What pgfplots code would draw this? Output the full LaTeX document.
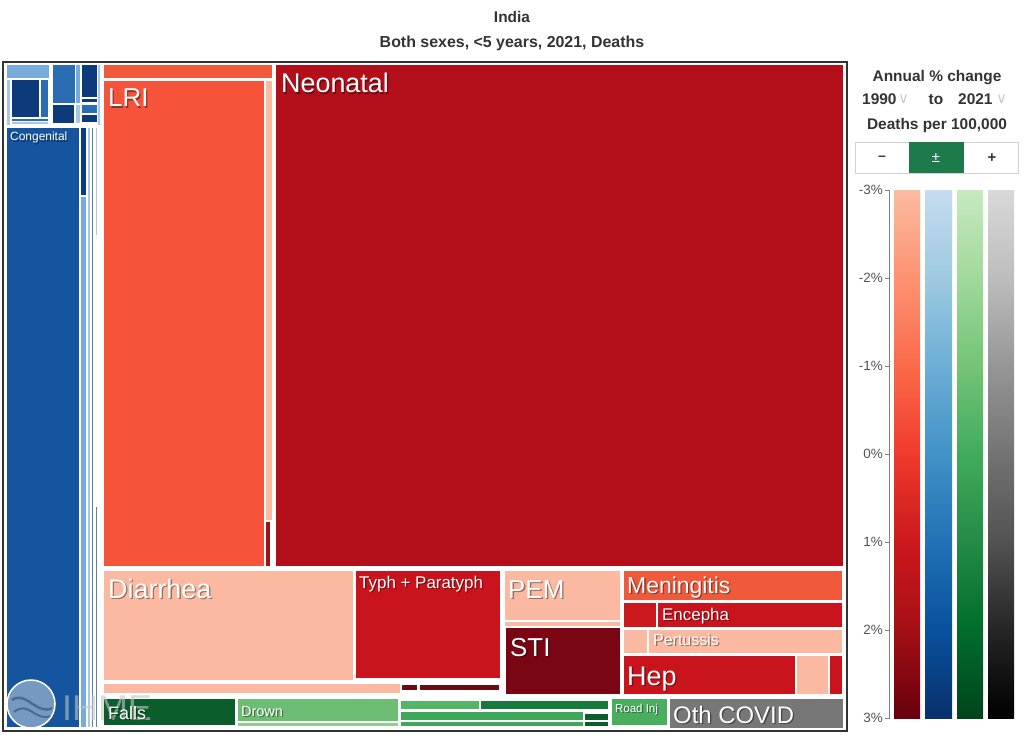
\documentclass[border=0pt]{standalone}
\usepackage{fontspec}
\setmainfont{Liberation Sans}
\newfontfamily\dejavu{DejaVu Sans}
\usepackage{pgfplots}
\pgfplotsset{compat=1.18}
% treemap colours
\definecolor{cong}{HTML}{15559F}
\definecolor{navy}{HTML}{0C3A7A}
\definecolor{bmed}{HTML}{2B6DB2}
\definecolor{blt}{HTML}{78ABD9}
\definecolor{bltr}{HTML}{A9C8E6}
\definecolor{slate}{HTML}{5E7FA6}
\definecolor{lri}{HTML}{F5533A}
\definecolor{orr}{HTML}{EF5A3D}
\definecolor{salm}{HTML}{FAB9A0}
\definecolor{neo}{HTML}{B20F1A}
\definecolor{redm}{HTML}{C9141D}
\definecolor{redd}{HTML}{7A0614}
\definecolor{redx}{HTML}{6B0B16}
\definecolor{gdk}{HTML}{0B5E2B}
\definecolor{glt}{HTML}{6DBD74}
\definecolor{gltr}{HTML}{8FCE8F}
\definecolor{gm1}{HTML}{54B468}
\definecolor{gm2}{HTML}{17793C}
\definecolor{gm3}{HTML}{3EA75A}
\definecolor{groad}{HTML}{4AAE5F}
\definecolor{covid}{HTML}{777777}
\definecolor{btn}{HTML}{1E7A4A}
\definecolor{txt}{HTML}{333333}
\definecolor{logo}{HTML}{8FAACB}
\definecolor{logod}{HTML}{3E5F8A}
% colour scales
\definecolor{r1}{HTML}{FCBBA1}\definecolor{r2}{HTML}{FC9272}\definecolor{r3}{HTML}{FB6A4A}
\definecolor{r4}{HTML}{EF3B2C}\definecolor{r5}{HTML}{CB181D}\definecolor{r6}{HTML}{A50F15}\definecolor{r7}{HTML}{67000D}
\definecolor{b1}{HTML}{C6DBEF}\definecolor{b2}{HTML}{9ECAE1}\definecolor{b3}{HTML}{6BAED6}
\definecolor{b4}{HTML}{4292C6}\definecolor{b5}{HTML}{2171B5}\definecolor{b6}{HTML}{08519C}\definecolor{b7}{HTML}{08306B}
\definecolor{g1}{HTML}{C7E9C0}\definecolor{g2}{HTML}{A1D99B}\definecolor{g3}{HTML}{74C476}
\definecolor{g4}{HTML}{41AB5D}\definecolor{g5}{HTML}{238B45}\definecolor{g6}{HTML}{006D2C}\definecolor{g7}{HTML}{00441B}
\definecolor{k1}{HTML}{D9D9D9}\definecolor{k2}{HTML}{BDBDBD}\definecolor{k3}{HTML}{969696}
\definecolor{k4}{HTML}{737373}\definecolor{k5}{HTML}{525252}\definecolor{k6}{HTML}{252525}\definecolor{k7}{HTML}{000000}
\pgfdeclareverticalshading{reds}{100bp}{color(0bp)=(r7); color(25bp)=(r7); color(33.33bp)=(r6); color(41.67bp)=(r5); color(50bp)=(r4); color(58.33bp)=(r3); color(66.67bp)=(r2); color(75bp)=(r1); color(100bp)=(r1)}
\pgfdeclareverticalshading{blues}{100bp}{color(0bp)=(b7); color(25bp)=(b7); color(33.33bp)=(b6); color(41.67bp)=(b5); color(50bp)=(b4); color(58.33bp)=(b3); color(66.67bp)=(b2); color(75bp)=(b1); color(100bp)=(b1)}
\pgfdeclareverticalshading{greens}{100bp}{color(0bp)=(g7); color(25bp)=(g7); color(33.33bp)=(g6); color(41.67bp)=(g5); color(50bp)=(g4); color(58.33bp)=(g3); color(66.67bp)=(g2); color(75bp)=(g1); color(100bp)=(g1)}
\pgfdeclareverticalshading{greys}{100bp}{color(0bp)=(k7); color(25bp)=(k7); color(33.33bp)=(k6); color(41.67bp)=(k5); color(50bp)=(k4); color(58.33bp)=(k3); color(66.67bp)=(k2); color(75bp)=(k1); color(100bp)=(k1)}
\newcommand{\R}[5]{\addplot[fill=#5,draw=none,forget plot] coordinates {(#1,#2) (#3,#2) (#3,#4) (#1,#4)} -- cycle;}
\newcommand{\SB}[3]{\addplot[shading=#3,draw=none,forget plot] coordinates {(#1,190) (#2,190) (#2,718) (#1,718)} -- cycle;}
\newcommand{\lab}[4]{%
 \node[anchor=base west,inner sep=0,text=black,opacity=0.4,xshift=1.3bp,yshift=-1.3bp,font=\fontsize{#3}{#3}\selectfont] at (axis cs:#1,#2) {#4};
 \node[anchor=base west,inner sep=0,text=white,font=\fontsize{#3}{#3}\selectfont] at (axis cs:#1,#2) {#4};}
\newcommand{\tk}[2]{\node[anchor=east,inner sep=0,text=txt!85,font=\fontsize{13.5}{13.5}\selectfont] at (axis cs:883,#1) {#2};}
\begin{document}
\begin{tikzpicture}
\useasboundingbox (0,0) rectangle (1024bp,735bp);
\begin{axis}[at={(0,0)},anchor=south west,scale only axis,width=1024bp,height=735bp,
  xmin=0,xmax=1024,ymin=0,ymax=735,y dir=reverse,hide axis,clip=false,no markers]
% frame
\addplot[draw=txt,line width=2bp,forget plot] coordinates {(3,62) (847,62) (847,731) (3,731)} -- cycle;
% blue cluster (top-left)
\R{7}{65}{49}{78}{blt}
\R{7}{80}{10}{125}{bltr}
\R{12}{80}{39}{117}{navy}
\R{41}{80}{48}{117}{bmed}
\R{12}{119}{48}{121}{bmed}
\R{12}{122}{48}{124}{bltr}
\R{53}{65}{75}{103}{bmed}
\R{76}{65}{80}{103}{blt}
\R{82}{65}{97}{97}{navy}
\R{82}{99}{97}{102}{navy}
\R{53}{105}{74}{123}{navy}
\R{76}{105}{80}{123}{bltr}
\R{82}{105}{97}{113}{bmed}
\R{82}{115}{97}{122}{navy}
\R{98}{65}{100}{125}{bltr}
% congenital column
\R{7}{128}{79}{727}{cong}
\R{81}{128}{86}{195}{navy}
\R{81}{197}{86}{727}{blt}
\R{88}{128}{90}{727}{bltr}
\R{92}{128}{93}{727}{slate}
\R{96}{128}{97}{235}{bltr}
\R{96}{507}{97}{727}{slate}
% LRI
\R{104}{65}{272}{78}{orr}
\R{104}{81}{264}{566}{lri}
\R{266}{81}{272}{520}{salm}
\R{266}{522}{270}{566}{r6}
% Neonatal
\R{276}{65}{843}{566}{neo}
% second band
\R{104}{571}{353}{680}{salm}
\R{104}{684}{400}{693}{salm}
\R{356}{571}{500}{678}{redm}
\R{402}{685}{417}{690}{redx}
\R{420}{685}{499}{690}{redx}
\R{505}{571}{620}{620}{salm}
\R{505}{622}{620}{626}{salm}
\R{506}{628}{620}{694}{redd}
\R{624}{571}{842}{600}{orr}
\R{624}{603}{656}{627}{r5}
\R{658}{603}{842}{627}{redm}
\R{624}{630}{647}{653}{salm}
\R{649}{630}{842}{653}{salm}
\R{624}{656}{795}{694}{redm}
\R{797}{656}{828}{694}{salm}
\R{830}{656}{842}{694}{redm}
% bottom band
\R{104}{699}{235}{725}{gdk}
\R{238}{699}{398}{721}{glt}
\R{238}{723}{398}{726}{gltr}
\R{401}{701}{479}{709}{gm1}
\R{481}{701}{608}{709}{gm2}
\R{401}{712}{583}{720}{gm3}
\R{585}{714}{608}{720}{gdk}
\R{401}{722}{583}{726}{gm3}
\R{585}{722}{608}{726}{gdk}
\R{612}{699}{667}{725}{groad}
\R{670}{699}{843}{728}{covid}
% IHME watermark (drawn under the labels)
\draw[white,line width=1.5bp,fill=logo,fill opacity=0.8] (axis cs:31,704) circle[radius=24bp];
\draw[logod,line width=2.5bp,opacity=0.8] (axis cs:12,700) .. controls (axis cs:25,690) and (axis cs:38,716) .. (axis cs:52,708);
\draw[logod,line width=2bp,opacity=0.8] (axis cs:14,712) .. controls (axis cs:28,700) and (axis cs:36,722) .. (axis cs:50,716);
\node[anchor=base west,inner sep=0,text=gray!45,opacity=0.6,font=\fontsize{36}{36}\selectfont] at (axis cs:62,720) {IHME};
% labels
\lab{10}{141}{12}{Congenital}
\lab{108}{107}{26}{LRI}
\lab{281}{93}{27}{Neonatal}
\lab{108}{598}{27}{Diarrhea}
\lab{359}{588}{17}{Typh + Paratyph}
\lab{508}{598}{26}{PEM}
\lab{510}{656}{26}{STI}
\lab{627}{593}{23}{Meningitis}
\lab{662}{620}{17}{Encepha}
\lab{653}{645}{16}{Pertussis}
\lab{627}{685}{27}{Hep}
\lab{673}{723}{24}{Oth COVID}
\lab{108}{719}{18}{Falls}
\lab{241}{716}{14.5}{Drown}
\lab{615}{712}{11.5}{Road Inj}
% titles
\node[anchor=base,text=txt,font=\bfseries\fontsize{15.5}{15.5}\selectfont] at (axis cs:512,23) {India};
\node[anchor=base,text=txt,font=\bfseries\fontsize{16}{16}\selectfont] at (axis cs:512,48) {Both sexes, <5 years, 2021, Deaths};
% right panel
\node[anchor=base,text=txt,font=\bfseries\fontsize{15.5}{15.5}\selectfont] at (axis cs:937,82) {Annual \% change};
\node[anchor=base west,inner sep=0,text=txt,font=\bfseries\fontsize{15.5}{15.5}\selectfont] at (axis cs:862,105) {1990};
\node[anchor=base west,inner sep=0,text=gray!40,font=\dejavu\fontsize{15}{15}\selectfont] at (axis cs:898,104) {∨};
\node[anchor=base,text=txt,font=\bfseries\fontsize{15.5}{15.5}\selectfont] at (axis cs:936,105) {to};
\node[anchor=base west,inner sep=0,text=txt,font=\bfseries\fontsize{15.5}{15.5}\selectfont] at (axis cs:958,105) {2021};
\node[anchor=base west,inner sep=0,text=gray!40,font=\dejavu\fontsize{15}{15}\selectfont] at (axis cs:996,104) {∨};
\node[anchor=base,text=txt,font=\bfseries\fontsize{15.5}{15.5}\selectfont] at (axis cs:937,130) {Deaths per 100,000};
\addplot[draw=gray!35,line width=0.8bp,forget plot] coordinates {(855,142) (1018,142) (1018,173) (855,173)} -- cycle;
\R{909}{142}{964}{173}{btn}
\node[text=txt,font=\bfseries\fontsize{14}{14}\selectfont] at (axis cs:882,158) {–};
\node[text=white,font=\fontsize{15}{15}\selectfont] at (axis cs:936,158) {±};
\node[text=txt,font=\bfseries\fontsize{15}{15}\selectfont] at (axis cs:992,158) {+};
% colour scale
\SB{894}{920}{reds}
\SB{925}{952}{blues}
\SB{957}{983}{greens}
\SB{988}{1014}{greys}
\addplot[draw=gray,line width=1bp,forget plot] coordinates {(885,190) (889,190) (889,718) (885,718)};
\addplot[draw=gray,line width=1bp,forget plot] coordinates {(885,278) (889,278)};
\addplot[draw=gray,line width=1bp,forget plot] coordinates {(885,366) (889,366)};
\addplot[draw=gray,line width=1bp,forget plot] coordinates {(885,454) (889,454)};
\addplot[draw=gray,line width=1bp,forget plot] coordinates {(885,542) (889,542)};
\addplot[draw=gray,line width=1bp,forget plot] coordinates {(885,630) (889,630)};
\tk{190}{-3\%}
\tk{278}{-2\%}
\tk{366}{-1\%}
\tk{454}{0\%}
\tk{542}{1\%}
\tk{630}{2\%}
\tk{718}{3\%}
\end{axis}
\end{tikzpicture}
\end{document}
